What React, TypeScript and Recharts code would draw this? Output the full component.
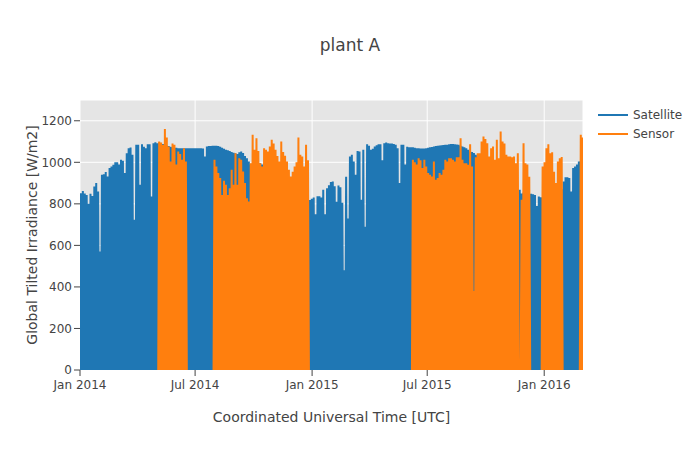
import React from 'react';
import { LineChart, Line, XAxis, YAxis, CartesianGrid, Label } from 'recharts';

const DAY = 86400000;
// each value below is the highest reading seen in one 3-day bin
const BIN_DAYS = 3;

const satelliteStart = '2014-01-01';
const satellitePeaks = [
  851, 862, 850, 843, 800, 848, 838, 883, 900, 860,
  570, 940, 943, 953, 932, 972, 980, 988, 1000, 1000,
  990, 1012, 1008, 948, 1044, 1068, 1071, 1036, 723, 1084,
  1084, 892, 1087, 1075, 1068, 1087, 1087, 835, 1092, 1097,
  1092, 1095, 1090, 1088, 1085, 1080, 1078, 1075, 1072, 1070,
  1070, 1068, 1068, 1068, 1068, 1068, 1068, 1068, 1068, 1068,
  1068, 1068, 1068, 1068, 1066, 1028, 1076, 1078, 1078, 1080,
  1080, 1080, 1078, 1075, 1070, 1065, 1060, 1058, 1055, 1050,
  1046, 1044, 1040, 1048, 1052, 1045, 1030, 1020, 1004, 990,
  985, 980, 990, 995, 995, 990, 980, 970, 960, 950,
  940, 930, 920, 910, 900, 895, 890, 880, 875, 870,
  865, 860, 855, 850, 845, 840, 835, 830, 825, 822,
  818, 825, 830, 750, 837, 837, 830, 868, 750, 875,
  890, 905, 908, 885, 810, 888, 880, 805, 480, 930,
  730, 1028, 1036, 1004, 940, 1055, 1052, 820, 1060, 690,
  1087, 1080, 1060, 1065, 1076, 1082, 1087, 1087, 1010, 1092,
  1095, 1092, 1090, 1090, 1088, 1085, 1068, 900, 1084, 1084,
  990, 1075, 1073, 1073, 1072, 1070, 1068, 1068, 1066, 1066,
  1066, 1068, 1070, 1072, 1074, 1076, 1078, 1080, 1081, 1082,
  1083, 1084, 1085, 1087, 1088, 1088, 1087, 1086, 1084, 1080,
  1076, 1072, 1068, 1060, 1052, 1050, 1045, 1036, 1028, 1020,
  1015, 1010, 1005, 1000, 995, 990, 985, 980, 975, 970,
  965, 960, 990, 996, 960, 930, 900, 880, 860, 860,
  868, 850, 855, 850, 850, 848, 848, 846, 843, 790,
  835, 832, 830, 835, 838, 840, 842, 845, 848, 850,
  855, 860, 870, 908, 928, 928, 924, 860, 972, 980,
  990, 1004, 1006, 1008,
];

// sensor only reported in these stretches
const sensorStarts = ['2014-05-04', '2014-07-30', '2015-06-07', '2015-12-28', '2016-02-26'];
const sensorMay2014 = [1100, 1095, 1084, 1160, 1120, 1076, 1004, 1090, 1084, 990, 1052, 1040, 1012, 1068, 1004];
const sensorAug2014 = [
  1012, 980, 948, 924, 843, 911, 892, 843, 875, 964,
  892, 1044, 892, 1020, 1012, 956, 900, 827, 811, 996,
  1133, 1060, 1116, 1055, 996, 980, 1068, 1060, 1052, 1076,
  1108, 1090, 1060, 1030, 1004, 1100, 1050, 1032, 1004, 964,
  932, 955, 980, 1000, 1119, 1036, 1028, 980, 1084, 1010,
];
const sensorJun2015 = [
  1012, 1000, 990, 1020, 1010, 972,
  1012, 980, 948, 940, 932, 1004, 916, 924, 948, 940,
  964, 1012, 1004, 1020, 1020, 1012, 1004, 1024, 1024, 1116,
  1012, 996, 996, 988, 1087, 980, 380, 1024, 1044, 1044,
  1100, 1124, 1112, 1092, 1028, 1068, 1076, 1012, 1108, 1020,
  1148, 1100, 1090, 1036, 1028, 1028, 1024, 1028, 996, 1044,
  null, 820, 1092, 996, 990, 930,
];
const sensorJan2016 = [980, 1000, 1068, 1087, 1044, 1049, 955, 900, 1004, 1020, 1025];
const sensorFeb2016 = [1133, 1120];
const sensorBlocks = [sensorMay2014, sensorAug2014, sensorJun2015, sensorJan2016, sensorFeb2016];

const xDomain = ['2014-01-01', '2016-03-02'];
const xTickDates = ['2014-01-01', '2014-07-01', '2015-01-01', '2015-07-01', '2016-01-01'];
const xTickLabels = ['Jan 2014', 'Jul 2014', 'Jan 2015', 'Jul 2015', 'Jan 2016'];
const yTicks = [0, 200, 400, 600, 800, 1000, 1200];

type Pt = { t: number; v: number | null };

// one hump per bin, back to zero at night like the hourly record
function toHumps(start: string, peaks: (number | null)[]): Pt[] {
  const t0 = Date.parse(start);
  const pts: Pt[] = [];
  peaks.forEach((p, i) => {
    const left = t0 + i * BIN_DAYS * DAY;
    if (p === null) {
      pts.push({ t: left + DAY, v: null });
      return;
    }
    pts.push({ t: left, v: 0 }, { t: left + (BIN_DAYS / 2) * DAY, v: p });
    const next = peaks[i + 1];
    if (next === undefined || next === null) pts.push({ t: left + BIN_DAYS * DAY, v: 0 });
  });
  return pts;
}

const satelliteData = toHumps(satelliteStart, satellitePeaks);
const sensorData = sensorBlocks.flatMap((block, i) => {
  const pts = toHumps(sensorStarts[i], block);
  return [...pts, { t: pts[pts.length - 1].t + DAY / 2, v: null }];
});

const xDomainMs = xDomain.map(d => Date.parse(d));
const xTicks = xTickDates.map(d => Date.parse(d));

const textColor = '#444';

const legendItems = [
  { name: 'Satellite', color: '#1f77b4' },
  { name: 'Sensor', color: '#ff7f0e' },
];

export default function App() {
  return (
    <div
      style={{
        position: 'absolute', left: 0, top: 0, width: 700, height: 450,
        background: '#fff', fontFamily: 'Verdana, "DejaVu Sans", sans-serif',
      }}
    >
      <div
        style={{
          position: 'absolute', left: 0, top: 35, width: 700, textAlign: 'center',
          fontSize: 17, lineHeight: '20px', color: textColor,
        }}
      >
        plant A
      </div>

      <LineChart width={700} height={450} margin={{ top: 100, right: 117, bottom: 0, left: 0 }}>
        <CartesianGrid stroke="#fff" fill="#e5e5e5" />
        <XAxis
          dataKey="t"
          type="number"
          domain={xDomainMs}
          allowDataOverflow
          ticks={xTicks}
          interval={0}
          tickFormatter={(v: number) => xTickLabels[xTicks.indexOf(v)] ?? ''}
          height={80}
          axisLine={false}
          tickMargin={4}
          tickLine={{ stroke: textColor }}
          tick={{ fill: textColor, fontSize: 12 }}
        >
          <Label
            content={() => (
              <text x={331.5} y={417} textAnchor="middle" dominantBaseline="central" fill={textColor} fontSize={14}>
                Coordinated Universal Time [UTC]
              </text>
            )}
          />
        </XAxis>
        <YAxis
          type="number"
          domain={[0, 1300]}
          allowDataOverflow
          ticks={yTicks}
          interval={0}
          width={80}
          axisLine={false}
          tickLine={{ stroke: textColor }}
          tick={{ fill: textColor, fontSize: 12 }}
        >
          <Label
            content={() => (
              <text
                x={32}
                y={235}
                transform="rotate(-90 32 235)"
                textAnchor="middle"
                dominantBaseline="central"
                fill={textColor}
                fontSize={14}
              >
                Global Tilted Irradiance [W/m2]
              </text>
            )}
          />
        </YAxis>
        <Line
          data={satelliteData}
          dataKey="v"
          name="Satellite"
          stroke="#1f77b4"
          strokeWidth={2}
          dot={false}
          activeDot={false}
          isAnimationActive={false}
        />
        <Line
          data={sensorData}
          dataKey="v"
          name="Sensor"
          stroke="#ff7f0e"
          strokeWidth={2}
          dot={false}
          activeDot={false}
          isAnimationActive={false}
        />
      </LineChart>

      {legendItems.map((item, i) => (
        <div
          key={item.name}
          style={{
            position: 'absolute', left: 597, top: 106 + i * 19, height: 18,
            display: 'flex', alignItems: 'center', fontSize: 12, color: textColor,
          }}
        >
          <svg width={32} height={4} style={{ marginRight: 4 }}>
            <line x1={1} y1={2} x2={31} y2={2} stroke={item.color} strokeWidth={2} />
          </svg>
          {item.name}
        </div>
      ))}
    </div>
  );
}
